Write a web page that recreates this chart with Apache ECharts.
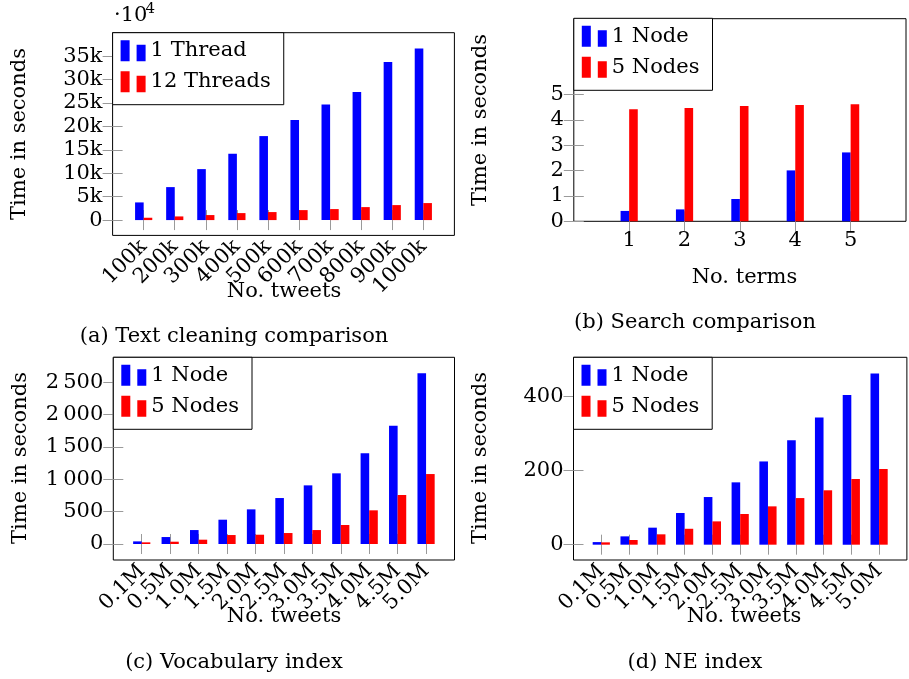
<!DOCTYPE html>
<html>
<head>
<meta charset="utf-8">
<script src="https://cdn.jsdelivr.net/npm/echarts@6/dist/echarts.min.js"></script>
<style>
html,body{margin:0;padding:0;background:#fff;}
#chart{width:909px;height:679px;}
</style>
</head>
<body>
<div id="chart"></div>
<script>
// ---------- data ----------
const tweetsA = ['100k','200k','300k','400k','500k','600k','700k','800k','900k','1000k'];
const oneThread = [3770, 7040, 10880, 14160, 17930, 21340, 24680, 27320, 33720, 36630];
const twelveThreads = [500, 780, 1070, 1490, 1710, 2130, 2350, 2770, 3200, 3630];
const yTicksA = [0, 5000, 10000, 15000, 20000, 25000, 30000, 35000];
const yLabelsA = ['0','5k','10k','15k','20k','25k','30k','35k'];

const termsB = ['1','2','3','4','5'];
const searchOneNode = [0.41, 0.47, 0.88, 2.01, 2.72];
const searchFiveNodes = [4.42, 4.47, 4.55, 4.59, 4.62];
const yTicksB = [0, 1, 2, 3, 4, 5];
const yLabelsB = ['0','1','2','3','4','5'];

const tweetsCD = ['0.1M','0.5M','1.0M','1.5M','2.0M','2.5M','3.0M','3.5M','4.0M','4.5M','5.0M'];
const vocabOneNode = [41, 108, 216, 376, 536, 711, 907, 1093, 1402, 1830, 2639];
const vocabFiveNodes = [26, 36, 67, 139, 144, 170, 216, 294, 521, 758, 1082];
const yTicksC = [0, 500, 1000, 1500, 2000, 2500];
const yLabelsC = ['0','500','1\u2009000','1\u2009500','2\u2009000','2\u2009500'];

const neOneNode = [7, 22.5, 46, 85.6, 128.8, 168.5, 225, 282, 344, 404.5, 463];
const neFiveNodes = [6.3, 12.6, 28, 43, 63, 83, 103.6, 126, 147, 177.5, 204.5];
const yTicksD = [0, 200, 400];
const yLabelsD = ['0','200','400'];

// ---------- style ----------
const FONT = 'DejaVu Serif';
const FS = 21;
const BLUE = '#0000ff';
const RED = '#ff0000';
const TICK = { color: '#9a9a9a', width: 1 };
const ICON = 'path://M0,0H9V21H0ZM16,4.5H25V21H16Z';

const panels = [
  { cats: tweetsA, names: ['1 Thread','12 Threads'], s1: oneThread, s2: twelveThreads,
    yTicks: yTicksA, yLabels: yLabelsA, rotate: 45,
    grid: { left: 112.6, top: 32.7, width: 341.8, height: 202.7 },
    y: [-3270, 40000] },
  { cats: termsB, names: ['1 Node','5 Nodes'], s1: searchOneNode, s2: searchFiveNodes,
    yTicks: yTicksB, yLabels: yLabelsB, rotate: 0,
    grid: { left: 573.8, top: 18.7, width: 341.4, height: 202.6 },
    y: [0, 8] },
  { cats: tweetsCD, names: ['1 Node','5 Nodes'], s1: vocabOneNode, s2: vocabFiveNodes,
    yTicks: yTicksC, yLabels: yLabelsC, rotate: 45,
    grid: { left: 113.3, top: 357.3, width: 341.2, height: 202.7 },
    y: [-247, 2887] },
  { cats: tweetsCD, names: ['1 Node','5 Nodes'], s1: neOneNode, s2: neFiveNodes,
    yTicks: yTicksD, yLabels: yLabelsD, rotate: 45,
    grid: { left: 573.5, top: 357.3, width: 342, height: 202.7 },
    y: [-41.4, 506.5] }
];

const grid = [], xAxis = [], yAxis = [], series = [], legend = [];
panels.forEach((p, i) => {
  grid.push(Object.assign({ show: true, borderColor: '#000', borderWidth: 1, backgroundColor: 'transparent' }, p.grid));
  // categories sit at 1..n on a value axis running from 0 to n+1
  const n = p.cats.length;
  const xPos = p.cats.map((c, k) => k + 1);
  const labelPos = [0].concat(xPos, [n + 1]);   // empty end labels keep the real ones from being hidden
  const common = { type: 'value', gridIndex: i, splitLine: { show: false }, axisLine: { show: false } };
  xAxis.push(Object.assign({}, common, {
    position: 'bottom', min: 0, max: n + 1,
    axisTick: { customValues: xPos, inside: true, length: 10, lineStyle: TICK },
    axisLabel: { customValues: labelPos, rotate: p.rotate, margin: p.rotate ? 8 : 9,
      showMinLabel: true, showMaxLabel: true,
      formatter: v => p.cats[Math.round(v) - 1] || '',
      fontFamily: FONT, fontSize: FS, color: '#000' }
  }));
  xAxis.push(Object.assign({}, common, {
    position: 'top', min: 0, max: n + 1,
    axisTick: { customValues: xPos, inside: true, length: 10, lineStyle: TICK },
    axisLabel: { show: false }
  }));
  yAxis.push(Object.assign({}, common, {
    position: 'left', min: p.y[0], max: p.y[1],
    axisTick: { customValues: p.yTicks, inside: true, length: 10, lineStyle: TICK },
    axisLabel: { customValues: p.yTicks, margin: 10, showMinLabel: true, showMaxLabel: true,
      formatter: v => { const k = p.yTicks.indexOf(v); return k >= 0 ? p.yLabels[k] : ''; },
      fontFamily: FONT, fontSize: FS, color: '#000' }
  }));
  yAxis.push(Object.assign({}, common, {
    position: 'right', min: p.y[0], max: p.y[1],
    axisTick: { customValues: p.yTicks, inside: true, length: 10, lineStyle: TICK },
    axisLabel: { show: false }
  }));
  [p.s1, p.s2].forEach((vals, j) => {
    series.push({
      type: 'bar', name: p.names[j], xAxisIndex: 2 * i, yAxisIndex: 2 * i,
      barWidth: 8.6, barGap: '0%',
      itemStyle: { color: j === 0 ? BLUE : RED },
      data: vals.map((v, k) => [xPos[k], v]),
      animation: false
    });
  });
  legend.push({
    orient: 'vertical', left: p.grid.left, top: p.grid.top - (i === 1 ? 0.4 : 0),
    data: p.names, icon: ICON, itemWidth: 25, itemHeight: 21, itemGap: 7, itemTextGap: 5,
    padding: [6, 13, 11, 8], backgroundColor: '#fff', borderColor: '#000', borderWidth: 1,
    textStyle: { fontFamily: FONT, fontSize: FS, color: '#000', lineHeight: 24 },
    selectedMode: false
  });
});

function txt(x, y, text, rot, extra) {
  return { type: 'text', x: x, y: y, rotation: rot || 0, z: 10,
    style: Object.assign({ text: text, fontFamily: FONT, fontSize: FS, fill: '#000',
      align: 'center', verticalAlign: 'middle' }, extra || {}) };
}
const graphic = [
  txt(20, 134, 'Time in seconds', Math.PI / 2),
  txt(481, 120, 'Time in seconds', Math.PI / 2),
  txt(20.7, 458, 'Time in seconds', Math.PI / 2),
  txt(481, 458, 'Time in seconds', Math.PI / 2),
  txt(284, 292, 'No. tweets'),
  txt(744.5, 277.5, 'No. terms'),
  txt(284, 617, 'No. tweets'),
  txt(744, 617, 'No. tweets'),
  txt(234, 337, '(a) Text cleaning comparison'),
  txt(695, 323, '(b) Search comparison'),
  txt(234, 663, '(c) Vocabulary index'),
  txt(695, 663, '(d) NE index'),
  txt(114, 16, '\u00b710', 0, { align: 'left' }),
  txt(145.5, 9.5, '4', 0, { align: 'left', fontSize: 15 })
];

const chart = echarts.init(document.getElementById('chart'), null, { renderer: 'canvas' });
chart.setOption({
  animation: false,
  backgroundColor: '#fff',
  grid: grid, xAxis: xAxis, yAxis: yAxis, series: series, legend: legend, graphic: graphic
});
</script>
</body>
</html>
